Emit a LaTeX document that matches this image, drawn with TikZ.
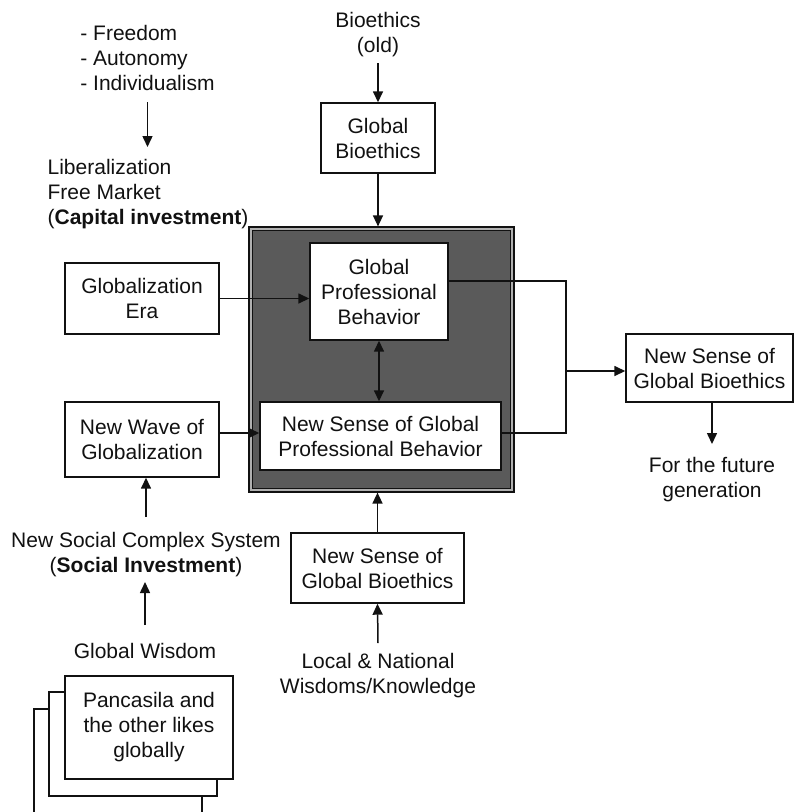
\documentclass[tikz,border=0pt]{standalone}
\usepackage{fontspec}
\setmainfont{Liberation Sans}
\usetikzlibrary{arrows.meta}
\definecolor{ink}{HTML}{111111}
\definecolor{darkfill}{HTML}{5A5A5A}
\definecolor{band}{HTML}{B0B0B0}
\begin{document}
\begin{tikzpicture}[x=1pt,y=-1pt,
  every node/.style={font=\fontsize{21}{25}\selectfont, inner sep=0pt, align=center, text=ink},
  box/.style={draw=ink, line width=1.4pt, fill=white},
  arr/.style={draw=ink, line width=1.5pt, -{Triangle[length=11pt,width=10pt]}},
  darr/.style={draw=ink, line width=1.5pt, {Triangle[length=11pt,width=10pt]}-{Triangle[length=11pt,width=10pt]}},
  conn/.style={draw=ink, line width=1.5pt}]
\useasboundingbox (0,0) rectangle (794,812);

% central frame
\node[draw=ink, line width=1.2pt, fill=band, minimum width=265pt, minimum height=265pt] (frame) at (381.5,359.5) {};
\draw[draw=ink, line width=1.2pt, fill=darkfill] ([shift={(4,4)}]frame.north west) rectangle ([shift={(-4,-4)}]frame.south east);

% text labels
\node[align=left] (list) at (147.5,58) {- Freedom\\- Autonomy\\- Individualism};
\node[align=left] (lib) at (148,194.5) {Liberalization\\Free Market\\({\bfseries Capital investment})};
\node (bioold) at (378,34.5) {Bioethics\\(old)};
\node (nscs) at (146,554.5) {New Social Complex System\\({\bfseries Social Investment})};
\node (gw) at (145,651) {Global Wisdom};
\node (local) at (378,675.5) {Local \& National\\Wisdoms/Knowledge};
\node (future) at (712,479.5) {For the future\\generation};

% boxes
\node[box, minimum width=114pt, minimum height=70pt] (gb) at (378,138) {Global\\Bioethics};
\node[box, minimum width=154pt, minimum height=71pt] (ge) at (142,298.5) {Globalization\\Era};
\node[box, minimum width=138pt, minimum height=97pt] (gpb) at (379,291.5) {Global\\Professional\\Behavior};
\node[box, minimum width=154pt, minimum height=75pt] (nw) at (142,439.5) {New Wave of\\Globalization};
\node[box, minimum width=241pt, minimum height=68pt] (nsgpb) at (380.5,436) {New Sense of Global\\Professional Behavior};
\node[box, minimum width=167pt, minimum height=68pt] (nsgbR) at (709.5,368) {New Sense of\\Global Bioethics};
\node[box, minimum width=173pt, minimum height=70pt] (nsgbB) at (377.5,568) {New Sense of\\Global Bioethics};

% stacked Pancasila boxes
\draw[box] (34,709) rectangle (202,818);
\draw[box] (49,692) rectangle (217,796);
\node[box, minimum width=168pt, minimum height=103pt] (pan) at (149,727.5) {Pancasila and\\the other likes\\globally};

% connectors
\draw[arr] (list.south |- 0,102) -- (list.south |- 0,147);
\draw[arr] (bioold.south |- 0,63) -- (gb.north);
\draw[arr] (gb.south) -- (frame.north -| gb.south);
\draw[arr] (ge.east) -- (gpb.west |- ge.east);
\draw[arr] (nw.east |- 0,433) -- (nsgpb.west |- 0,433);
\draw[darr] (gpb.south) -- (nsgpb.north -| gpb.south);
\draw[arr] (nsgbB.north) -- (frame.south -| nsgbB.north);
\draw[arr] (local.north |- 0,643) -- (nsgbB.south);
\draw[arr] (nscs.north |- 0,517) -- (nscs.north |- nw.south);
\draw[arr] (gw.north |- 0,625) -- (gw.north |- 0,582);
\coordinate (bus) at (566,371);
\draw[conn] (gpb.east |- 0,281) -| (bus) |- (nsgpb.east |- 0,433);
\draw[arr] (bus) -- (nsgbR.west |- bus);
\draw[arr] (future.north |- nsgbR.south) -- (future.north |- 0,444);
\end{tikzpicture}
\end{document}
